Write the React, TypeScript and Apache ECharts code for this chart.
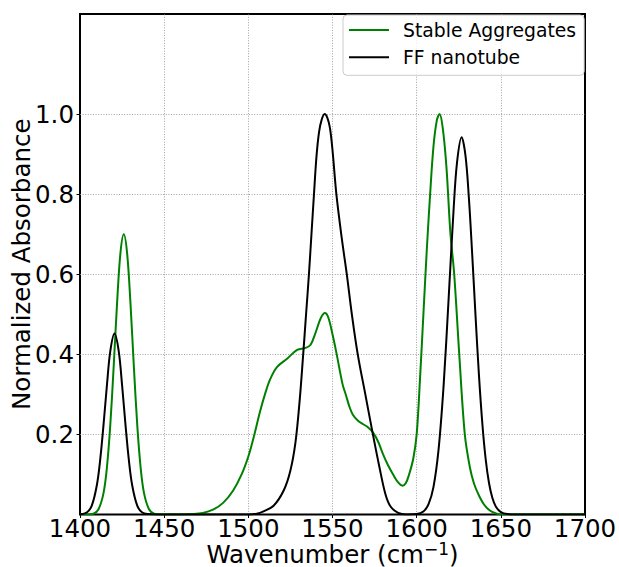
import React, { useEffect, useRef } from "react";
import * as echarts from "echarts";

const FONT = "DejaVu Sans";

const seriesNames = ["Stable Aggregates", "FF nanotube"];
const seriesColors = ["#008000", "#000000"];

const xTicks = [1400, 1450, 1500, 1550, 1600, 1650, 1700];
const xGridLines = [1450, 1500, 1550, 1600, 1650];
const yTicks = [0.2, 0.4, 0.6, 0.8, 1.0];

// Stable Aggregates (green)
const stableWavenumber = [
  1400, 1404, 1408, 1411, 1414, 1416, 1418, 1420, 1422, 1424, 1426, 1428, 1430,
  1432, 1434, 1436, 1438, 1441, 1444, 1448, 1460, 1466, 1473, 1479, 1485, 1491,
  1496, 1500, 1503, 1507, 1510, 1513, 1517, 1523, 1529, 1534, 1537, 1540, 1543,
  1545.5, 1547.5, 1550, 1552.5, 1556, 1558, 1560, 1562, 1565, 1568, 1571, 1574,
  1577, 1580, 1583, 1586, 1589, 1591.5, 1593.5, 1595.5, 1598, 1600, 1602, 1604,
  1606, 1608, 1610, 1612, 1613.6, 1615.5, 1617.7, 1620, 1622.3, 1625.3, 1628.6,
  1631.6, 1634, 1636.5, 1640, 1643.5, 1647, 1650, 1700,
];
const stableAbsorbance = [
  0, 0, 0.002, 0.013, 0.054, 0.118, 0.224, 0.369, 0.526, 0.652, 0.7, 0.652, 0.526,
  0.369, 0.224, 0.118, 0.054, 0.013, 0.002, 0, 0, 0.001, 0.004, 0.012, 0.029, 0.06,
  0.1, 0.145, 0.19, 0.258, 0.302, 0.338, 0.368, 0.389, 0.411, 0.416, 0.424, 0.455, 0.49,
  0.503, 0.492, 0.45, 0.4, 0.325, 0.298, 0.27, 0.25, 0.235, 0.226, 0.218, 0.205,
  0.183, 0.151, 0.123, 0.1, 0.08, 0.072, 0.078, 0.1, 0.14, 0.2, 0.34, 0.5,
  0.66, 0.8, 0.92, 0.985, 1.0, 0.965, 0.867, 0.705, 0.6, 0.4, 0.2,
  0.118, 0.078, 0.052, 0.025, 0.01, 0.003, 0, 0,
];

// FF nanotube (black)
const nanotubeWavenumber = [
  1400, 1404, 1407, 1410, 1412, 1414, 1416, 1418, 1420.5, 1423, 1425, 1427, 1429,
  1431, 1434, 1437, 1441, 1445, 1500, 1505, 1509, 1515, 1521, 1525, 1528, 1530.5,
  1532.5, 1534.3, 1536, 1537.5, 1539, 1540.5, 1542, 1543.5, 1545.3, 1547, 1548.5,
  1550, 1552.3, 1555.5, 1558.5, 1561.5, 1565, 1569.5, 1574, 1577.8, 1581.5, 1584.5,
  1589, 1594, 1600, 1604, 1607, 1610, 1613, 1616, 1619, 1622, 1624, 1626.7, 1629,
  1631, 1633, 1635, 1637, 1639, 1641, 1643, 1645, 1647, 1650, 1654, 1660, 1700,
];
const nanotubeAbsorbance = [
  0, 0.005, 0.022, 0.073, 0.137, 0.225, 0.323, 0.408, 0.452, 0.408, 0.323, 0.225, 0.137,
  0.073, 0.022, 0.005, 0.001, 0, 0, 0.002, 0.008, 0.022, 0.06, 0.11, 0.18, 0.285,
  0.395, 0.5, 0.6, 0.7, 0.8, 0.895, 0.955, 0.985, 1.0, 0.99, 0.965,
  0.91, 0.8, 0.69, 0.6, 0.5, 0.4, 0.3, 0.2, 0.12, 0.05, 0.02,
  0.004, 0, 0.001, 0.0075, 0.025, 0.069, 0.162, 0.322, 0.54, 0.766, 0.88, 0.942, 0.896,
  0.792, 0.649, 0.494, 0.348, 0.228, 0.138, 0.078, 0.041, 0.02, 0.006, 0.001, 0, 0,
];

const stableData = stableWavenumber.map((w, i) => [w, stableAbsorbance[i]]);
const nanotubeData = nanotubeWavenumber.map((w, i) => [w, nanotubeAbsorbance[i]]);

export default function App() {
  const ref = useRef<HTMLDivElement>(null);

  useEffect(() => {
    document.body.style.margin = "0";
    if (!ref.current) return;
    const chart = echarts.init(ref.current, undefined, { renderer: "svg" });
    const option: any = {
      animation: false,
      backgroundColor: "#ffffff",
      grid: {
        left: 80,
        right: 34,
        top: 14,
        bottom: 52.5,
        show: true,
        borderColor: "#000000",
        borderWidth: 2,
        backgroundColor: "transparent",
        outerBoundsMode: "none",
        containLabel: false,
      },
      legend: {
        data: seriesNames.map((n, i) => ({ name: n, icon: "rect", itemStyle: { color: seriesColors[i] } })),
        orient: "vertical",
        left: 343,
        top: 15,
        itemWidth: 40,
        itemHeight: 2,
        itemGap: 5.3,
        padding: [4, 8, 7, 6],
        backgroundColor: "rgba(255,255,255,0.8)",
        borderColor: "#cccccc",
        borderWidth: 1,
        borderRadius: 4,
        selectedMode: false,
        textStyle: {
          fontFamily: FONT,
          fontSize: 18.8,
          color: "#000000",
          lineHeight: 22,
          padding: [0, 0, 0, 9],
        },
      },
      xAxis: {
        type: "value",
        min: 1400,
        max: 1700,
        interval: 50,
        axisLine: { show: false },
        axisTick: { show: true, length: 3.5, lineStyle: { color: "#000", width: 1 } },
        axisLabel: {
          fontFamily: FONT,
          fontSize: 24.5,
          lineHeight: 20,
          color: "#000",
          margin: 3.5,
          customValues: xTicks,
          formatter: (v: number) => String(v),
        },
        splitLine: { show: false },
        name: "{n|Wavenumber (cm}{s|−1}{n|)}",
        nameLocation: "middle",
        nameGap: 26,
        nameMoveOverlap: false,
        nameTextStyle: {
          fontFamily: FONT,
          fontSize: 24.5,
          color: "#000",
          rich: {
            n: { fontFamily: FONT, fontSize: 24.5, color: "#000", lineHeight: 27 },
            s: { fontFamily: FONT, fontSize: 17, color: "#000", lineHeight: 17, verticalAlign: "top" },
          },
        },
      },
      yAxis: {
        type: "value",
        min: 0,
        max: 1.25,
        interval: 0.2,
        axisLine: { show: false },
        axisTick: {
          show: true,
          length: 3.5,
          lineStyle: { color: "#000", width: 1 },
          customValues: yTicks,
        },
        axisLabel: {
          fontFamily: FONT,
          fontSize: 24.5,
          color: "#000",
          margin: 6,
          customValues: yTicks,
          formatter: (v: number) => (v > 0.1 && v < 1.1 ? v.toFixed(1) : ""),
        },
        splitLine: { show: false },
        name: "Normalized Absorbance",
        nameLocation: "middle",
        nameRotate: 90,
        nameGap: 46,
        nameMoveOverlap: false,
        nameTextStyle: { fontFamily: FONT, fontSize: 24.5, color: "#000" },
      },
      series: [
        {
          name: seriesNames[0],
          type: "line",
          data: stableData,
          symbol: "none",
          showSymbol: false,
          smooth: 0.35,
          lineStyle: { color: seriesColors[0], width: 2 },
          itemStyle: { color: seriesColors[0] },
          z: 3,
          silent: true,
          markLine: {
            silent: true,
            z: 1,
            symbol: ["none", "none"],
            label: { show: false },
            emphasis: { disabled: true },
            animation: false,
            lineStyle: { color: "#8a8a8a", width: 0.8, type: [1, 1.6] },
            data: [
              ...xGridLines.map((v) => ({ xAxis: v })),
              ...yTicks.map((v) => ({ yAxis: v })),
            ],
          },
        },
        {
          name: seriesNames[1],
          type: "line",
          data: nanotubeData,
          symbol: "none",
          showSymbol: false,
          smooth: 0.35,
          lineStyle: { color: seriesColors[1], width: 2 },
          itemStyle: { color: seriesColors[1] },
          z: 4,
          silent: true,
        },
      ],
    };
    chart.setOption(option);
    return () => chart.dispose();
  }, []);

  return <div ref={ref} style={{ width: 619, height: 567 }} />;
}
